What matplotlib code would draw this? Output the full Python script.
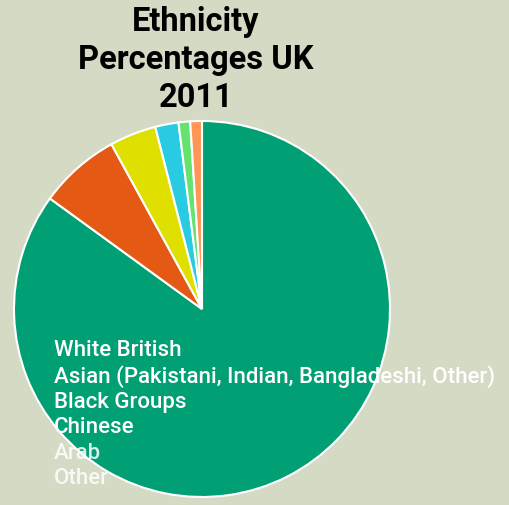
import matplotlib
matplotlib.use("Agg")
import matplotlib.pyplot as plt

# UK 2011 census, share of population by ethnic group (%)
groups = ["White British",
          "Asian (Pakistani, Indian, Bangladeshi, Other)",
          "Black Groups",
          "Chinese",
          "Arab",
          "Other"]
shares = [85, 7, 4, 2, 1, 1]
colours = ["#00a074", "#e45a15", "#dfdf00", "#29cbe3", "#66e26f", "#ff9656"]

bg = "#d4dac4"
W, H = 510, 506

plt.rcParams["font.family"] = ["Roboto", "DejaVu Sans"]

fig = plt.figure(figsize=(W / 100, H / 100), dpi=100, facecolor=bg)

# pie axes: centre (202, 310) px, radius 188 px
cx, cy, r = 202, 310, 188
ax = fig.add_axes([(cx - r) / W, (H - cy - r) / H, 2 * r / W, 2 * r / H])
ax.set_facecolor(bg)

wedges, _ = ax.pie(shares, colors=colours, startangle=90, counterclock=False,
                   wedgeprops=dict(edgecolor="white", linewidth=1.5))
ax.set_xlim(-1, 1)
ax.set_ylim(-1, 1)
ax.axis("off")

fig.text(196 / W, 1 - 60 / H, "Ethnicity\nPercentages UK\n2011", ha="center", va="center",
         fontsize=23.5, fontweight="bold", color="black", linespacing=1.23)

leg = fig.legend(wedges, groups, loc="upper left", bbox_to_anchor=(54 / W, 1 - 340 / H),
                 frameon=False, handlelength=0, handletextpad=0, borderpad=0,
                 borderaxespad=0, labelspacing=0.19, prop=dict(size=16, weight="medium"))
for h in leg.legend_handles:
    h.set_visible(False)
for i, t in enumerate(leg.get_texts()):
    t.set_color("white")
    if i >= 4:
        t.set_alpha(0.85)

fig.savefig("out.png", dpi=100, facecolor=bg)
